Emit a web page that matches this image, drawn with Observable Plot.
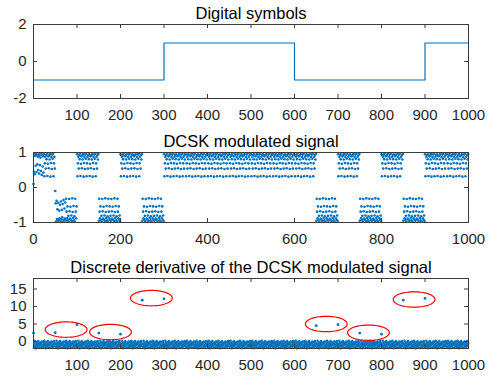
<!DOCTYPE html>
<html><head><meta charset="utf-8">
<script src="https://cdn.jsdelivr.net/npm/d3@7"></script>
<script src="https://cdn.jsdelivr.net/npm/@observablehq/plot@0.6"></script>
<style>
html,body{margin:0;padding:0;background:#fff;}
#chart{position:relative;width:499px;height:388px;overflow:hidden;background:#fff;}
#chart svg{position:absolute;left:0;}
</style></head><body><div id="chart"></div>
<script>
// ---- data ----
const titles = ["Digital symbols", "DCSK modulated signal", "Discrete derivative of the DCSK modulated signal"];
const symbols = [-1, -1, -1, 1, 1, 1, -1, -1, -1, 1];   // one symbol per 100 samples
const bitLength = 100;
// chaotic reference of the first bit (transient)
const firstRef = [0.10, 0.45, 0.97, 0.38, 0.90, 0.62, 0.95, 0.44, 0.93, 0.66, 0.88, 0.50, 0.96, 0.40, 0.91, 0.64, 0.85, 0.47, 0.97, 0.36, 0.93, 0.60, 0.89, 0.43, 0.95,
  0.32, 0.69, 0.88, 0.54, 0.93, 0.81, 0.97, 0.33, 0.68, 0.89, 0.55, 0.92, 0.80, 0.96, 0.31, 0.70, 0.87, 0.53, 0.94, 0.82, 0.97, 0.32, 0.69, 0.88, 0.54];
// chaotic reference chips of the following bits
const chipRef = [0.95, 0.32, 0.69, 0.88, 0.54, 0.93, 0.81,
  0.97, 0.33, 0.68, 0.89, 0.55, 0.92, 0.80,
  0.96, 0.31, 0.70, 0.87, 0.53, 0.94, 0.82,
  0.97, 0.32, 0.69, 0.88, 0.54, 0.93, 0.81,
  0.95, 0.33, 0.68, 0.89, 0.55, 0.92, 0.80,
  0.96, 0.31, 0.70, 0.87, 0.53, 0.94, 0.82,
  0.97, 0.32, 0.69, 0.88, 0.54, 0.93, 0.80, 0.96];
// derivative values within a half-bit (dense band)
const bandChip = [-0.1, -1.6, -0.7, 0.2, -1.3, -0.4, -1.9, -1.0, -0.2, -1.5, -0.8, 0.1, -1.2, -0.5, -1.8, -0.9, -0.3, -1.7,
  -0.6, 0.0, -1.4, -1.1, -0.1, -1.6, -0.7, 0.2, -1.3, -0.4, -1.9, -1.0, -0.2, -1.5, -0.8, 0.1, -1.2, -0.5,
  -1.8, -0.9, -0.3, -1.7, -0.6, 0.0, -1.4, -1.1, -0.2, -1.5, -0.8, 0.1, -1.2, -0.5];
const spikeX = [0, 50, 100, 150, 200, 250, 300, 650, 700, 750, 800, 850, 900];
const spikeY = [2.4, 2.5, 4.8, 2.4, 2.1, 11.8, 12.2, 4.5, 4.8, 2.4, 2.1, 11.8, 12.3];
const ellipseX = [75, 177, 271, 673, 770, 875];
const ellipseY = [3.4, 2.7, 12.4, 5.0, 2.5, 12.0];
const ellipseRX = 48, ellipseRY = 2.2;
const xTicks1 = [100, 200, 300, 400, 500, 600, 700, 800, 900, 1000];
const xTicks2 = [0, 200, 400, 600, 800, 1000];
const yTicks1 = [-2, 0, 2];
const yTicks2 = [-1, 0, 1];
const yTicks3 = [0, 5, 10, 15];

// ---- derived tables ----
const stepData = symbols.map((s, k) => ({x: k * bitLength, y: s}));
stepData.push({x: symbols.length * bitLength, y: symbols[symbols.length - 1]});

const half = bitLength / 2;
const dcsk = [];
symbols.forEach((s, k) => {
  const ref = k === 0 ? firstRef : chipRef;
  ref.forEach((v, i) => dcsk.push({x: k * bitLength + i, y: v}));
  ref.forEach((v, i) => dcsk.push({x: k * bitLength + half + i, y: s * v}));
});

const spikeSet = new Set(spikeX);
const band = [];
for (let n = 0; n < symbols.length * bitLength; n++) {
  if (!spikeSet.has(n)) band.push({x: n, y: bandChip[n % half]});
}
const spikes = spikeX.map((x, i) => ({x, y: spikeY[i]}));

const ellPts = [];
ellipseX.forEach((cx, e) => {
  for (let j = 0; j <= 72; j++) {
    const t = 2 * Math.PI * j / 72;
    ellPts.push({e, x: cx + ellipseRX * Math.cos(t), y: ellipseY[e] + ellipseRY * Math.sin(t)});
  }
});

// ---- style ----
const BLUE = "#0072BD", AX = "#262626", FRAME = "#3a3a3a";
const FONT = "'Liberation Sans', Arial, Helvetica, sans-serif";
const W = 499, ML = 33, MR = 31, TL = 4;

function panel({top, height, mt, mb, title, xDomain, xTicks, yDomain, yTicks, marks}) {
  const ph = height - mt - mb;
  const pw = W - ML - MR;
  const svg = Plot.plot({
    width: W, height, marginTop: mt, marginBottom: mb, marginLeft: ML, marginRight: MR,
    style: {fontFamily: FONT, fontSize: "15px", color: AX, background: "#fff", overflow: "visible"},
    x: {domain: xDomain}, y: {domain: yDomain},
    marks: [
      ...marks,
      Plot.frame({stroke: FRAME, strokeWidth: 1}),
      Plot.tickX(xTicks, {x: d => d, insetTop: ph - TL, stroke: FRAME}),
      Plot.tickX(xTicks, {x: d => d, insetBottom: ph - TL, stroke: FRAME}),
      Plot.tickY(yTicks, {y: d => d, insetRight: pw - TL, stroke: FRAME}),
      Plot.tickY(yTicks, {y: d => d, insetLeft: pw - TL, stroke: FRAME}),
      Plot.axisX({ticks: xTicks, tickSize: 0, tickPadding: 11, tickFormat: d => String(d), label: null, fontSize: 15}),
      Plot.axisY({ticks: yTicks, tickSize: 0, tickPadding: 7, tickFormat: d => String(d), label: null, fontSize: 15}),
      Plot.text([title], {frameAnchor: "top", dy: -6, lineAnchor: "bottom", fontSize: 16.5, fill: "#000", text: d => d})
    ]
  });
  svg.style.top = top + "px";
  document.getElementById("chart").appendChild(svg);
}

panel({top: 0, height: 130, mt: 24, mb: 32, title: titles[0], xDomain: [0, 1000], xTicks: xTicks1,
  yDomain: [-2, 2], yTicks: yTicks1,
  marks: [Plot.line(stepData, {x: "x", y: "y", curve: "step-after", stroke: BLUE, strokeWidth: 1.2})]});

panel({top: 130, height: 125, mt: 22, mb: 33, title: titles[1], xDomain: [0, 1000], xTicks: xTicks2,
  yDomain: [-1, 1], yTicks: yTicks2,
  marks: [Plot.dot(dcsk, {x: "x", y: "y", r: 1.3, fill: BLUE, stroke: null})]});

panel({top: 255, height: 133, mt: 23, mb: 40, title: titles[2], xDomain: [0, 1000], xTicks: xTicks1,
  yDomain: [-2, 18], yTicks: yTicks3,
  marks: [
    Plot.dot(band, {x: "x", y: "y", r: 1.3, fill: BLUE, stroke: null}),
    Plot.dot(spikes, {x: "x", y: "y", r: 1.4, fill: BLUE, stroke: null}),
    Plot.line(ellPts, {x: "x", y: "y", z: "e", stroke: "#FF0000", strokeWidth: 1.2, curve: "linear"})
  ]});
</script></body></html>
